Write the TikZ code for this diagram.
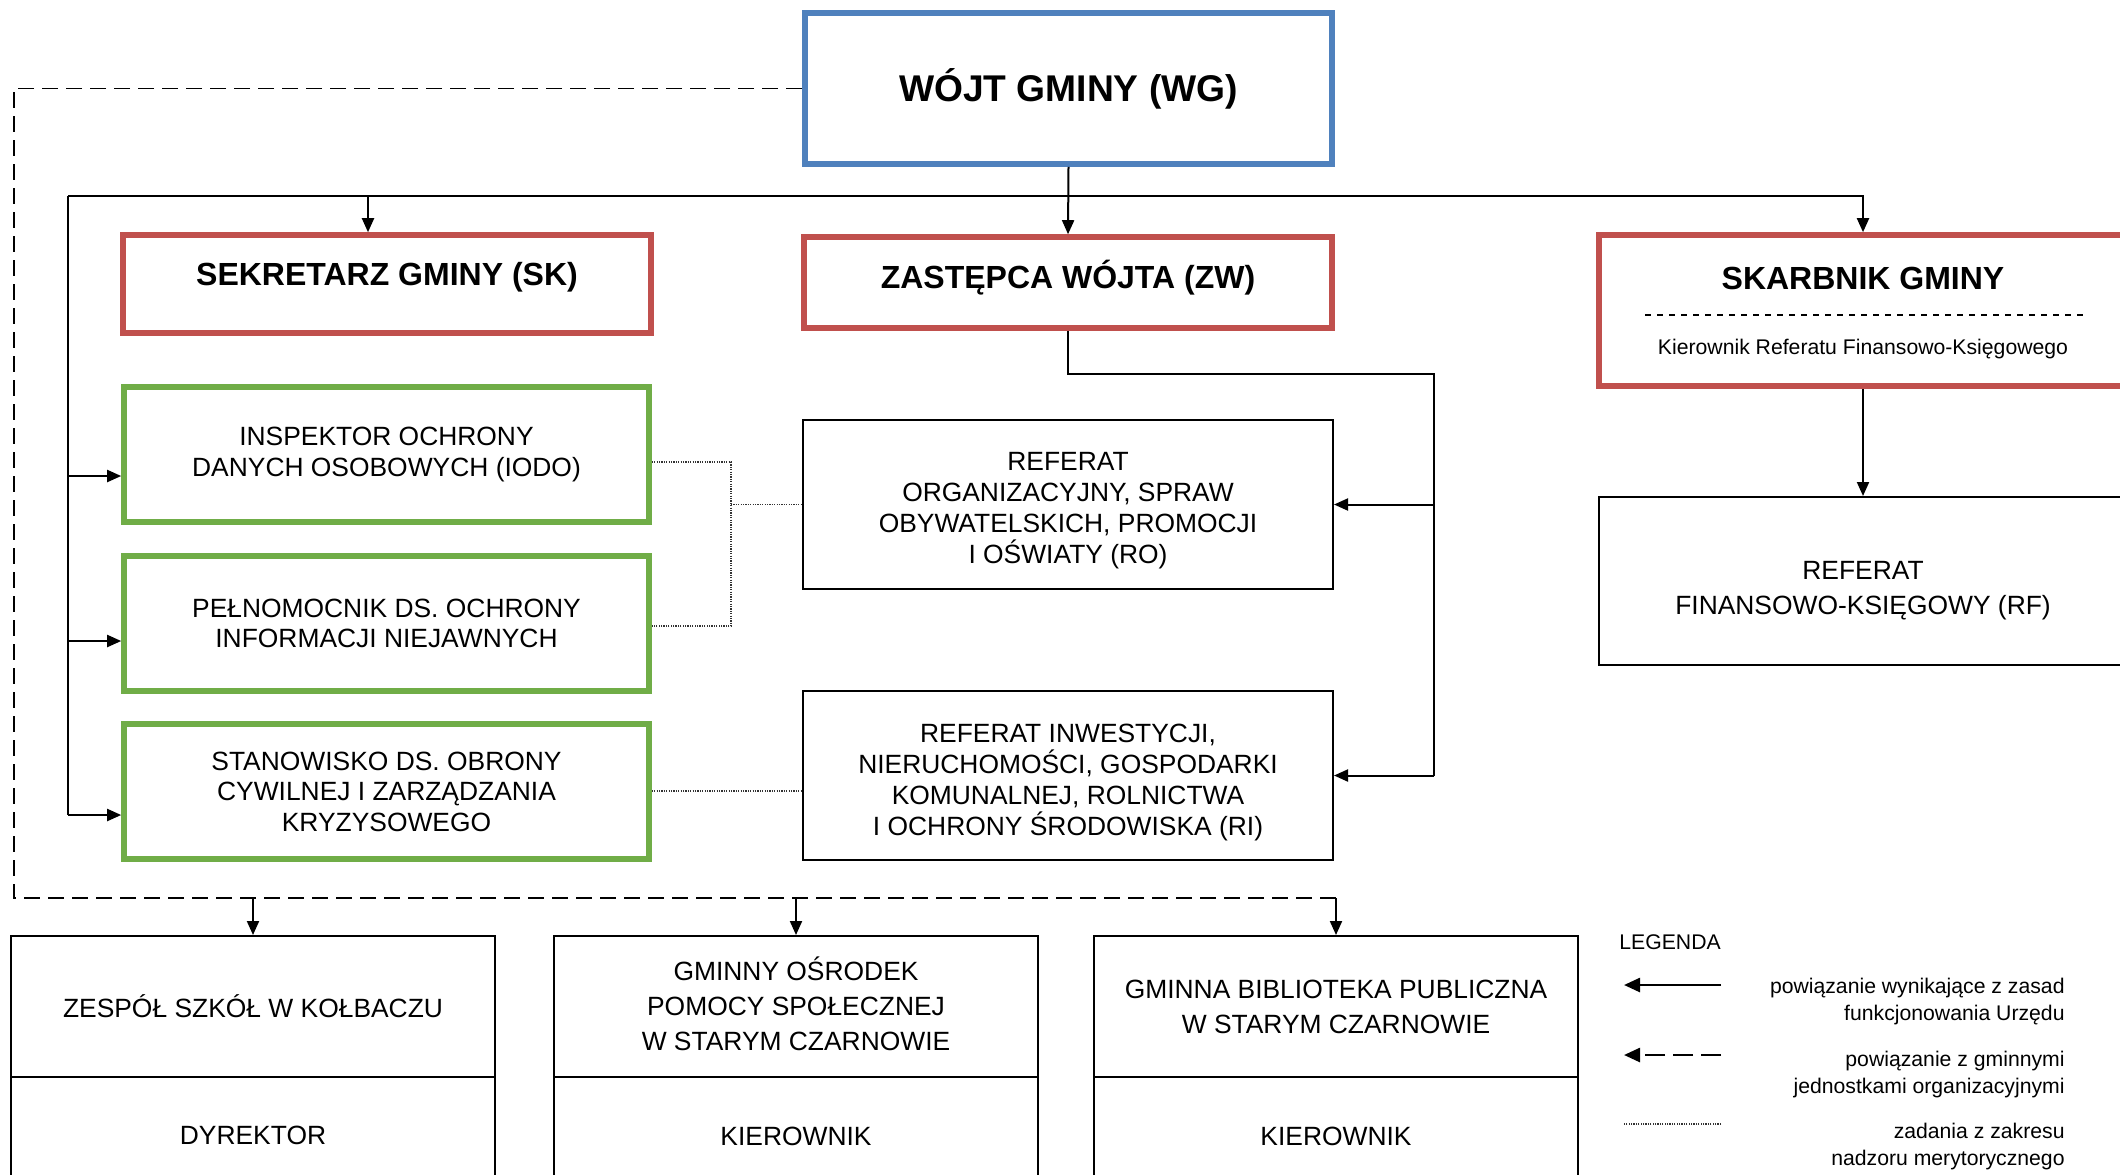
\documentclass[tikz,border=0pt]{standalone}
\usepackage{fontspec}
\setmainfont{Liberation Sans}
\usetikzlibrary{arrows.meta}
\definecolor{cblue}{HTML}{4F81BD}
\definecolor{cred}{HTML}{C0504D}
\definecolor{cgreen}{HTML}{70AD47}
\newcommand\fReg{\fontsize{13.2}{15.3}\selectfont}
\newcommand\fRegM{\fontsize{13.2}{15.5}\selectfont}
\newcommand\fRegW{\fontsize{13.2}{17.5}\selectfont}
\newcommand\fBig{\fontsize{18.6}{22}\selectfont\bfseries}
\newcommand\fHead{\fontsize{16}{19}\selectfont\bfseries}
\newcommand\fSmall{\fontsize{10.6}{13.5}\selectfont}
\begin{document}
\begin{tikzpicture}[x=0.5pt,y=-0.5pt,
  conn/.style={line width=1pt},
  arr/.style={line width=1pt,-{Triangle[length=7pt,width=6pt]}},
  dsh/.style={line width=0.9pt,dash pattern=on 8pt off 4pt},
  dotl/.style={line width=0.6pt,dash pattern=on 0.6pt off 0.6pt,black!80},
  basebox/.style={draw,inner sep=0pt,align=center},
  bluebox/.style={basebox,draw=cblue,line width=2.8pt,font=\fBig},
  redbox/.style={basebox,draw=cred,line width=2.8pt,font=\fHead},
  greenbox/.style={basebox,draw=cgreen,line width=2.8pt,font=\fReg,minimum width=262.5pt,minimum height=67.5pt},
  plainbox/.style={basebox,draw=black,line width=1pt,font=\fReg},
  txt/.style={inner sep=0pt,align=center}
]
\useasboundingbox (0,0) rectangle (2120,1174);
\clip (0,0) rectangle (2120,1174);
\fill[white] (0,0) rectangle (2120,1174);

% top level
\node[bluebox,minimum width=263.5pt,minimum height=75.5pt] (wg) at (1068.5,88.5) {WÓJT GMINY (WG)};
\node[redbox,minimum width=264pt,minimum height=49pt] (sk) at (387,284) {};
\node[txt,font=\fHead] (skt) at (387,277) {SEKRETARZ GMINY (SK)};
\node[redbox,minimum width=264pt,minimum height=45.5pt] (zw) at (1068,282.5) {};
\node[txt,font=\fHead] (zwt) at (1068,278) {ZASTĘPCA WÓJTA (ZW)};
\node[redbox,minimum width=264pt,minimum height=75.5pt] (sg) at (1863,310.5) {};
\node[txt,font=\fHead] (sgt) at (1863,278) {SKARBNIK GMINY};
\node[txt,font=\fSmall] (sgk) at (1863,349) {Kierownik Referatu Finansowo-Księgowego};
\coordinate (sgd) at (1645,315);
\draw[line width=0.6pt,dash pattern=on 3pt off 3pt] (sgd) -- (2083,315);

% green
\node[greenbox] (iodo) at (386.5,454.5) {INSPEKTOR OCHRONY\\DANYCH OSOBOWYCH (IODO)};
\node[greenbox] (pel) at (386.5,623.5) {PEŁNOMOCNIK DS. OCHRONY\\INFORMACJI NIEJAWNYCH};
\node[greenbox] (stan) at (386.5,791.5) {STANOWISKO DS. OBRONY\\CYWILNEJ I ZARZĄDZANIA\\KRYZYSOWEGO};

% referaty
\node[plainbox,minimum width=265pt,minimum height=84.5pt] (ro) at (1068,504.5) {};
\node[txt,font=\fRegM] (rot) at (1068,511) {REFERAT\\ORGANIZACYJNY, SPRAW\\OBYWATELSKICH, PROMOCJI\\I OŚWIATY (RO)};
\node[plainbox,minimum width=265pt,minimum height=84.5pt] (ri) at (1068,775.5) {};
\node[txt,font=\fRegM] (rit) at (1068,782) {REFERAT INWESTYCJI,\\NIERUCHOMOŚCI, GOSPODARKI\\KOMUNALNEJ, ROLNICTWA\\I OCHRONY ŚRODOWISKA (RI)};
\node[plainbox,minimum width=264pt,minimum height=84pt] (rf) at (1863,581) {};
\node[txt,font=\fRegW] (rft) at (1863,591) {REFERAT\\FINANSOWO-KSIĘGOWY (RF)};

% bottom units
\node[plainbox,minimum width=242pt,minimum height=130pt] (zs) at (253,1066) {};
\node[plainbox,minimum width=242pt,minimum height=130pt] (gops) at (796,1066) {};
\node[plainbox,minimum width=242pt,minimum height=130pt] (gbp) at (1336,1066) {};
\coordinate (dv) at (0,1077);
\draw[conn] (zs.west |- dv) -- (zs.east |- dv);
\draw[conn] (gops.west |- dv) -- (gops.east |- dv);
\draw[conn] (gbp.west |- dv) -- (gbp.east |- dv);
\node[txt,font=\fReg] (zst) at (253,1006) {ZESPÓŁ SZKÓŁ W KOŁBACZU};
\node[txt,font=\fReg] (zsd) at (253,1135) {DYREKTOR};
\node[txt,font=\fRegW] (gopst) at (796,1004) {GMINNY OŚRODEK\\POMOCY SPOŁECZNEJ\\W STARYM CZARNOWIE};
\node[txt,font=\fReg] (gopsk) at (796,1136) {KIEROWNIK};
\node[txt,font=\fRegW] (gbpt) at (1336,1007) {GMINNA BIBLIOTEKA PUBLICZNA\\W STARYM CZARNOWIE};
\node[txt,font=\fReg] (gbpk) at (1336,1136) {KIEROWNIK};

% solid connectors
\draw[arr] (wg.south) -- (zw.north);
\coordinate (bl) at (68,196);
\draw[arr] (bl) -| (sg.north);
\coordinate (skin) at (368,196);
\draw[arr] (skin) -- (skin |- sk.north);
\coordinate (bb) at (68,815);
\draw[conn] (bl) -- (bb);
\coordinate (a1) at (68,476);
\coordinate (a2) at (68,641);
\draw[arr] (a1) -- (a1 -| iodo.west);
\draw[arr] (a2) -- (a2 -| pel.west);
\draw[arr] (bb) -- (bb -| stan.west);
\draw[arr] (sg.south) -- (rf.north);
\coordinate (zr) at (1434,374);
\draw[conn] (zw.south) |- (zr) -- (zr |- ri.east);
\draw[arr] (zr |- ri.east) -- (ri.east);
\draw[arr] (zr |- ro.east) -- (ro.east);

% dotted supervision
\coordinate (d1) at (731,462);
\coordinate (d2) at (731,626);
\coordinate (d3) at (731,504.5);
\coordinate (d4) at (700,791);
\draw[dotl] (d1 -| iodo.east) -- (d1) -- (d2) -- (d2 -| pel.east);
\draw[dotl] (d3) -- (ro.west);
\draw[dotl] (d4 -| stan.east) -- (d4 -| ri.west);

% dashed to units
\coordinate (c2) at (14,898);
\draw[dsh] (wg.west) -| (c2) -- (c2 -| gbp.north);
\draw[arr] (c2 -| zs.north) -- (zs.north);
\draw[arr] (c2 -| gops.north) -- (gops.north);
\draw[arr] (c2 -| gbp.north) -- (gbp.north);

% legend
\node[txt,anchor=west,font=\fSmall] (leg) at (1619,942) {LEGENDA};
\coordinate (l1a) at (1721,985);
\coordinate (l1b) at (1624,985);
\coordinate (l2a) at (1721,1055);
\coordinate (l2b) at (1624,1055);
\coordinate (l3a) at (1721,1124);
\coordinate (l3b) at (1624,1124);
\draw[line width=1.3pt,-{Triangle[length=8pt,width=7pt]}] (l1a) -- (l1b);
\draw[line width=1.3pt,dash pattern=on 10pt off 4pt,-{Triangle[length=8pt,width=7pt]}] (l2a) -- (l2b);
\draw[dotl] (l3a) -- (l3b);
\node[txt,anchor=east,align=right,font=\fSmall] (lt1) at (2065,1001.5) {powiązanie wynikające z zasad\\funkcjonowania Urzędu};
\node[txt,anchor=east,align=right,font=\fSmall] (lt2) at (2065,1074) {powiązanie z gminnymi\\jednostkami organizacyjnymi};
\node[txt,anchor=east,align=right,font=\fSmall] (lt3) at (2065,1146.5) {zadania z zakresu\\nadzoru merytorycznego};
\end{tikzpicture}
\end{document}
